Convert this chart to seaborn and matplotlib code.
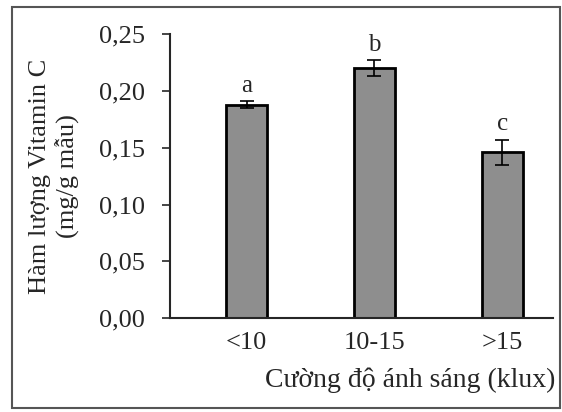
import numpy as np
import pandas as pd
import seaborn as sns
import matplotlib.pyplot as plt
from matplotlib.patches import Rectangle

# data
categories = ["<10", "10-15", ">15"]
vitamin_c = [0.188, 0.220, 0.146]
errors = [0.003, 0.007, 0.011]
letters = ["a", "b", "c"]

sns.set_style("ticks")
plt.rcParams['font.family'] = ['Liberation Serif', 'DejaVu Serif']

df = pd.DataFrame({"cat": categories, "val": vitamin_c})

fig = plt.figure(figsize=(5.62, 4.12), dpi=100)
ax = fig.add_axes([0.3025, 0.228, 0.682, 0.689])

sns.barplot(data=df, x="cat", y="val", color="#8e8e8e", edgecolor="black",
            linewidth=2, width=0.32, ax=ax, saturation=1)
ax.errorbar(range(len(categories)), vitamin_c, yerr=errors, fmt="none",
            ecolor="black", elinewidth=1.2, capsize=5, capthick=1.2)

for i, (v, e, t) in enumerate(zip(vitamin_c, errors, letters)):
    ax.text(i, v + e + 0.004, t, ha="center", va="bottom", fontsize=18)

ax.set_ylim(0, 0.25)
ax.set_xlim(-0.6, 2.4)
ax.set_yticks(np.arange(0, 0.26, 0.05))
ax.set_yticklabels([f"{t:.2f}".replace(".", ",") for t in np.arange(0, 0.26, 0.05)])
ax.tick_params(axis="y", labelsize=19, length=6, width=1.2, direction="out", pad=12)
ax.tick_params(axis="x", labelsize=19, length=0, pad=10)
ax.set_xlabel("")
ax.set_ylabel("Hàm lượng Vitamin C\n(mg/g mẫu)", fontsize=19, linespacing=1.2, labelpad=14)
sns.despine(ax=ax)
for s in ["left", "bottom"]:
    ax.spines[s].set_linewidth(1.5)

fig.text(0.988, 0.077, "Cường độ ánh sáng (klux)", ha="right", va="center", fontsize=20)

# outer frame
fig.patches.append(Rectangle((0.022, 0.01), 0.975, 0.973, transform=fig.transFigure,
                             fill=False, edgecolor="#555555", linewidth=1.5))

fig.savefig("out.png", dpi=100)
